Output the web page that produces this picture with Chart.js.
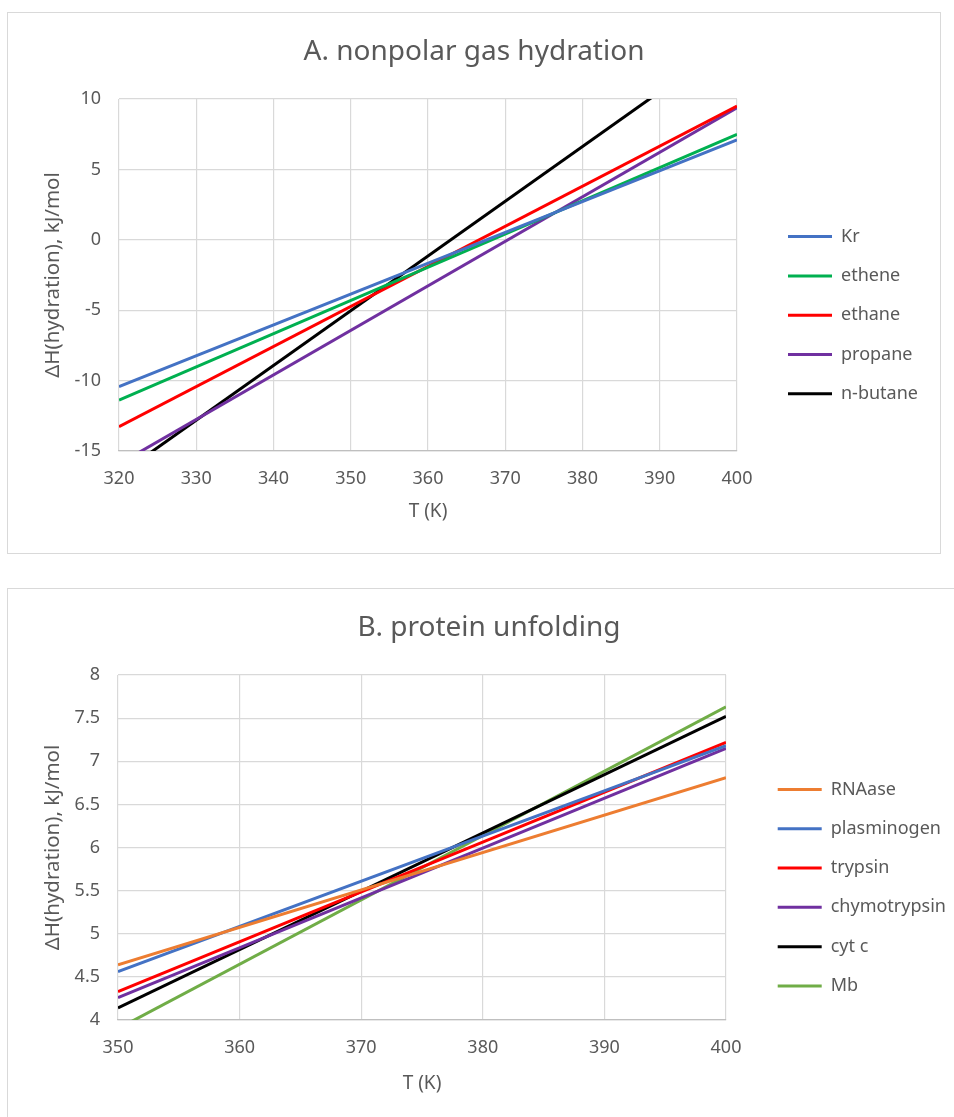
<!DOCTYPE html>
<html><head><meta charset="utf-8">
<script src="https://cdn.jsdelivr.net/npm/chart.js@4.4.1/dist/chart.umd.min.js"></script>
<style>
html,body{margin:0;padding:0;background:#fff;overflow:hidden;width:954px;height:1117px;}
.box{position:absolute;border:1px solid #D9D9D9;box-sizing:border-box;background:#fff;}
#boxA{left:7px;top:12px;width:934px;height:542px;}
#boxB{left:7px;top:588px;width:964px;height:542px;}
canvas{display:block;}
</style></head><body>
<div class="box" id="boxA"><canvas id="cA" width="932" height="540"></canvas></div>
<div class="box" id="boxB"><canvas id="cB" width="962" height="540"></canvas></div>
<script>
// ---- Chart A: nonpolar gas hydration ----
const tempsA = [320, 400];
const krA = [-10.43, 7.09];
const etheneA = [-11.38, 7.49];
const ethaneA = [-13.27, 9.5];
const propaneA = [-15.92, 9.38];
const nbutaneA = [-16.7, 14.4];
const xTicksA = {min: 320, max: 400, step: 10};
const yTicksA = {min: -15, max: 10, step: 5};

// ---- Chart B: protein unfolding ----
const tempsB = [350, 400];
const rnaaseB = [4.64, 6.81];
const plasminogenB = [4.56, 7.18];
const trypsinB = [4.33, 7.22];
const chymotrypsinB = [4.26, 7.15];
const cytcB = [4.14, 7.52];
const mbB = [3.90, 7.63];
const xTicksB = {min: 350, max: 400, step: 10};
const yTicksB = {min: 4, max: 8, step: 0.5};

const TEXT = '#595959';
const FONT = "'Noto Sans', 'Open Sans', sans-serif";
const GRID = '#D9D9D9';
const LEG_FONT = 18, LEG_PAD = 21.3, LEG_BOX = 44;
const YT_FONT = 20.5;

function series(label, xs, ys, color) {
  return {
    label: label,
    data: xs.map((x, i) => ({x: x, y: ys[i]})),
    borderColor: color,
    backgroundColor: color,
    borderWidth: 3,
    pointRadius: 0,
    tension: 0,
    clip: 0
  };
}

function maxTextWidth(labels) {
  const c = document.createElement('canvas').getContext('2d');
  c.font = 'normal ' + LEG_FONT + 'px ' + FONT;
  return Math.max.apply(null, labels.map(t => c.measureText(t).width));
}

function makeChart(id, title, datasets, xr, yr, geo) {
  const canvas = document.getElementById(id);
  const W = canvas.width;
  const legendW = LEG_PAD + LEG_BOX + LEG_FONT / 2 + maxTextWidth(datasets.map(d => d.label)) + 10;
  const P = W - geo.right - geo.spacer - legendW;   // symmetric side padding keeps title centred
  return new Chart(canvas, {
    type: 'line',
    data: {datasets: datasets},
    options: {
      responsive: false,
      animation: false,
      layout: {padding: {left: P, right: P, top: 0, bottom: 0}},
      plugins: {
        title: {
          display: true, text: title, color: TEXT,
          font: {family: FONT, size: 28, weight: 'normal'},
          padding: {top: 22.2, bottom: 30.2}
        },
        legend: {
          display: true, position: 'right', align: 'center', maxWidth: 400,
          title: {display: true, text: ' ', font: {size: 12}, padding: {top: geo.legendPad, bottom: 0}},
          labels: {
            usePointStyle: true, pointStyle: 'line', pointStyleWidth: LEG_BOX,
            padding: LEG_PAD, color: TEXT, font: {family: FONT, size: LEG_FONT}
          }
        },
        tooltip: {enabled: false}
      },
      scales: {
        x: {
          type: 'linear', min: xr.min, max: xr.max,
          ticks: {stepSize: xr.step, color: TEXT, font: {family: FONT, size: 18}, padding: 17},
          grid: {color: GRID, lineWidth: 1.2, drawTicks: false},
          border: {color: '#BFBFBF', width: 1.2},
          title: {display: true, text: 'T (K)', color: TEXT, font: {family: FONT, size: 19}, padding: {top: 0, bottom: geo.xTitlePad}},
          afterFit: s => { s.height = geo.xH; }
        },
        y: {
          type: 'linear', min: yr.min, max: yr.max,
          ticks: {stepSize: yr.step, color: TEXT, font: {family: FONT, size: 18}, padding: 18,
                  callback: v => String(v)},
          grid: {color: GRID, lineWidth: 1.2, drawTicks: false},
          border: {display: false},
          title: {display: true, text: 'ΔH(hydration), kJ/mol', color: TEXT, font: {family: FONT, size: YT_FONT},
                  padding: {top: 45 - YT_FONT * 0.6 - P, bottom: 0}},
          afterFit: s => { s.width = geo.left - P; }
        },
        spacer: {
          type: 'linear', axis: 'y', position: 'right', display: true,
          grid: {display: false}, ticks: {display: false}, border: {display: false},
          afterFit: s => { s.width = geo.spacer; }
        }
      }
    }
  });
}

makeChart('cA', 'A. nonpolar gas hydration', [
  series('Kr', tempsA, krA, '#4472C4'),
  series('ethene', tempsA, etheneA, '#00B050'),
  series('ethane', tempsA, ethaneA, '#FF0000'),
  series('propane', tempsA, propaneA, '#7030A0'),
  series('n-butane', tempsA, nbutaneA, '#000000')
], xTicksA, yTicksA, {left: 111, right: 729, spacer: 29.7, xH: 102, xTitlePad: 30, legendPad: 50});

makeChart('cB', 'B. protein unfolding', [
  series('RNAase', tempsB, rnaaseB, '#ED7D31'),
  series('plasminogen', tempsB, plasminogenB, '#4472C4'),
  series('trypsin', tempsB, trypsinB, '#FF0000'),
  series('chymotrypsin', tempsB, chymotrypsinB, '#7030A0'),
  series('cyt c', tempsB, cytcB, '#000000'),
  series('Mb', tempsB, mbB, '#70AD47')
], xTicksB, yTicksB, {left: 110, right: 718, spacer: 30.4, xH: 109, xTitlePad: 34, legendPad: 43});
</script>
</body></html>
